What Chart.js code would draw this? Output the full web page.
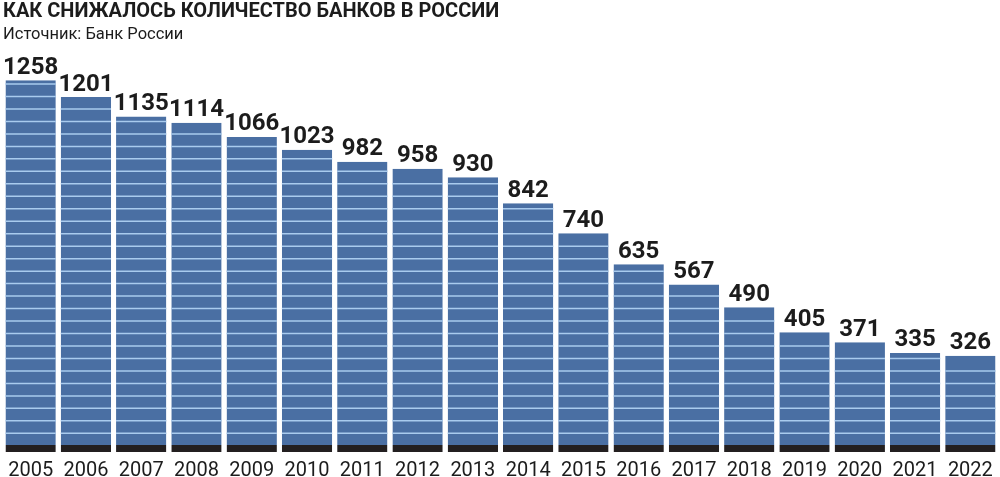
<!DOCTYPE html>
<html lang="ru">
<head>
<meta charset="utf-8">
<title>Как снижалось количество банков в России</title>
<script src="https://cdn.jsdelivr.net/npm/chart.js@4.4.1/dist/chart.umd.min.js"></script>
<style>
  html, body { margin: 0; padding: 0; background: #fff; }
  #wrap { width: 1000px; height: 477px; }
</style>
</head>
<body>
<div id="wrap"><canvas id="banksChart"></canvas></div>
<script>
// данные - число банков по годам
const years = ['2005', '2006', '2007', '2008', '2009', '2010', '2011', '2012', '2013',
  '2014', '2015', '2016', '2017', '2018', '2019', '2020', '2021', '2022'];
const banks = [1258, 1201, 1135, 1114, 1066, 1023, 982, 958, 930,
  842, 740, 635, 567, 490, 405, 371, 335, 326];

const titleText = 'КАК СНИЖАЛОСЬ КОЛИЧЕСТВО БАНКОВ В РОССИИ';
const sourceText = 'Источник: Банк России';

const BAR_BLUE = '#4a6fa3';
const STRIPE_COLOR = '#a9cbee';
const BAND_DARK = '#231f20';
const TEXT_COLOR = '#1c1c1c';

// полоски поверх столбцов (в пикселях от основания)
const STRIPE_OFFSET = 18.7;
const STRIPE_STEP = 12.475;

const stripesPlugin = {
  id: 'stripes',
  afterDatasetsDraw(chart) {
    const ctx = chart.ctx;
    ctx.save();
    ctx.strokeStyle = STRIPE_COLOR;
    ctx.lineWidth = 1.5;
    chart.getDatasetMeta(0).data.forEach(bar => {
      const { x, y, base, width } = bar.getProps(['x', 'y', 'base', 'width'], true);
      const left = x - width / 2;
      const right = x + width / 2;
      for (let sy = base - STRIPE_OFFSET; sy > y + 3.7; sy -= STRIPE_STEP) {
        ctx.beginPath();
        ctx.moveTo(left, sy);
        ctx.lineTo(right, sy);
        ctx.stroke();
      }
    });
    ctx.restore();
  }
};

// подписи значений над столбцами
const valueLabels = {
  id: 'valueLabels',
  afterDatasetsDraw(chart) {
    const ctx = chart.ctx;
    ctx.save();
    ctx.font = 'bold 24px Roboto';
    ctx.fillStyle = TEXT_COLOR;
    ctx.textAlign = 'center';
    ctx.textBaseline = 'alphabetic';
    chart.getDatasetMeta(0).data.forEach((bar, i) => {
      ctx.fillText(banks[i], bar.x, bar.y - 6.5);
    });
    ctx.restore();
  }
};

const ctx = document.getElementById('banksChart').getContext('2d');

new Chart(ctx, {
  type: 'bar',
  data: {
    labels: years,
    datasets: [{
      label: 'Количество банков',
      data: banks,
      backgroundColor: BAR_BLUE,
      borderColor: BAND_DARK,
      borderWidth: { top: 0, left: 0, right: 0, bottom: 7 },
      borderSkipped: false,
      barPercentage: 1,
      categoryPercentage: 0.91
    }]
  },
  options: {
    responsive: true,
    maintainAspectRatio: false,
    animation: false,
    layout: {
      padding: { left: 3, right: 2, top: 0, bottom: 0 }
    },
    scales: {
      x: {
        grid: { display: false, drawTicks: false, tickLength: 0 },
        border: { display: false },
        ticks: {
          color: TEXT_COLOR,
          padding: 7,
          font: { family: 'Roboto', size: 20 }
        },
        // фиксированная высота оси под подписями годов
        afterFit: scale => { scale.height = 25; }
      },
      y: {
        display: false,
        min: 0,
        max: 1300
      }
    },
    plugins: {
      legend: { display: false },
      tooltip: { enabled: false },
      title: {
        display: true,
        align: 'start',
        text: titleText,
        color: TEXT_COLOR,
        font: { family: 'Roboto', weight: 'bold', size: 20 },
        padding: { top: 0, bottom: 0 }
      },
      subtitle: {
        display: true,
        align: 'start',
        text: sourceText,
        color: TEXT_COLOR,
        font: { family: 'Roboto', size: 16.5 },
        padding: { top: 1, bottom: 23 }
      }
    }
  },
  plugins: [stripesPlugin, valueLabels]
});
</script>
</body>
</html>
